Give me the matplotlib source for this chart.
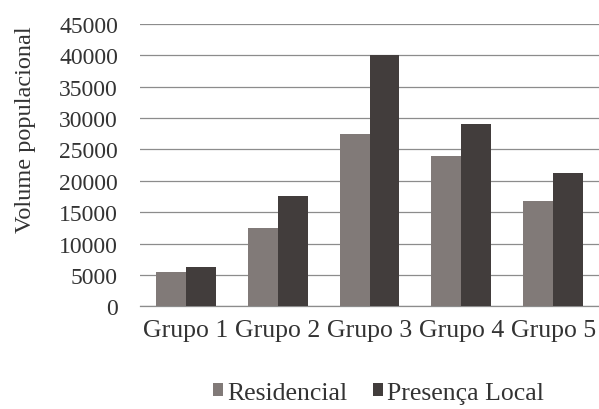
import matplotlib.pyplot as plt
import numpy as np

plt.rcParams['font.family'] = ['Liberation Serif', 'DejaVu Serif']

grupos = ["Grupo 1", "Grupo 2", "Grupo 3", "Grupo 4", "Grupo 5"]
residencial = [5500, 12500, 27500, 24000, 16700]
presenca_local = [6200, 17600, 40000, 29100, 21200]
y_ticks = list(range(0, 45001, 5000))

cor_res = "#817a78"
cor_pres = "#423d3c"

fig = plt.figure(figsize=(5.99, 4.10), dpi=100)
ax = fig.add_axes([0.234, 0.2505, 0.766, 0.689])

x = np.arange(len(grupos))
w = 0.326
ax.bar(x - w / 2, residencial, w, color=cor_res, label="Residencial", zorder=3)
ax.bar(x + w / 2, presenca_local, w, color=cor_pres, label="Presença Local", zorder=3)

ax.set_xlim(-0.5, len(grupos) - 0.5)
ax.set_ylim(0, 45000)
ax.set_yticks(y_ticks)
ax.set_yticklabels([str(v) for v in y_ticks], fontsize=17, color="#333333")
ax.set_xticks(x)
ax.set_xticklabels(grupos, fontsize=18.5, color="#333333")
ax.tick_params(axis="y", length=0, pad=16)
ax.tick_params(axis="x", length=0, pad=9)

ax.yaxis.grid(True, color="#8c8c8c", linewidth=0.9)
ax.set_axisbelow(True)
for s in ["top", "right", "left"]:
    ax.spines[s].set_visible(False)
ax.spines["bottom"].set_color("#8c8c8c")
ax.spines["bottom"].set_linewidth(0.9)

fig.text(0.042, 0.683, "Volume populacional", rotation=90, fontsize=17.5,
         color="#333333", ha="center", va="center")

fig.legend(loc="center", bbox_to_anchor=(0.632, 0.04), ncol=2, frameon=False,
           fontsize=18.5, handlelength=0.4, handleheight=0.4, handletextpad=0.15,
           columnspacing=1.0, labelcolor="#333333", borderpad=0.1)

fig.savefig("out.png", dpi=100, facecolor="white")
